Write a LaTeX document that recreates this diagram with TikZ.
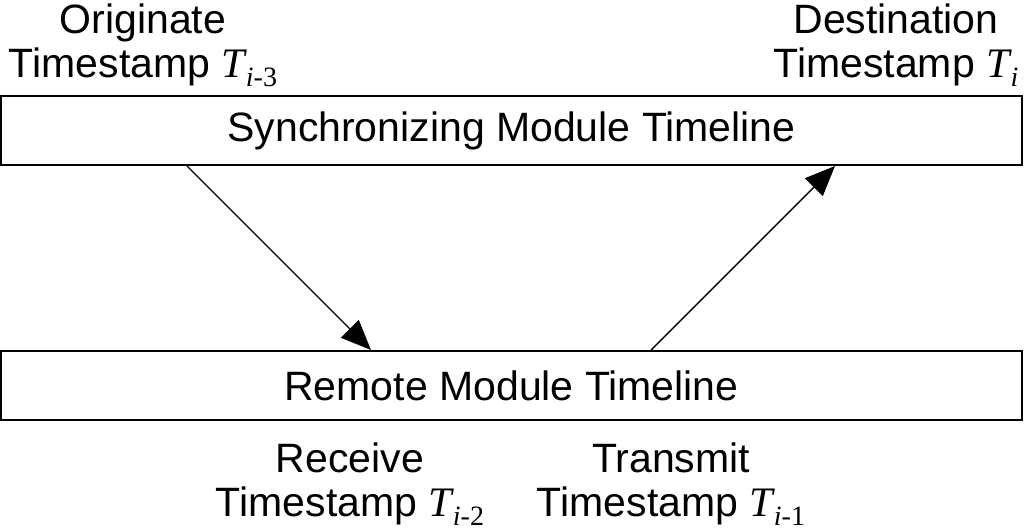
\documentclass[tikz,border=0pt]{standalone}
\usepackage{fontspec}
\setmainfont{Liberation Sans}
\newfontfamily\tnr{Liberation Serif}
\usetikzlibrary{arrows.meta,calc}
\newcommand{\Tsub}[2]{{\tnr\fontsize{42}{42}\selectfont\itshape T\kern1pt\raisebox{-9pt}{\fontsize{28}{28}\selectfont #1\upshape #2}}}
\begin{document}
\begin{tikzpicture}[x=1pt,y=-1pt,
  timeline/.style={draw, line width=2pt, minimum width=1021pt, minimum height=69pt, inner sep=0pt, font=\fontsize{41}{44}\selectfont},
  lbl/.style={align=center, inner sep=0pt, font=\fontsize{41}{44}\selectfont},
  msg/.style={line width=1.4pt, -{Triangle[length=30pt,width=25pt]}}]
\useasboundingbox (0,0) rectangle (1024,531);
\node[timeline] (sync) at (511.5,130.5) {Synchronizing Module Timeline};
\node[timeline] (remote) at (511.5,385.5) {Remote Module Timeline};
\node[lbl] (orig) at (143,45) {Originate\\Timestamp \Tsub{i}{-3}};
\node[lbl] (dest) at (896,45) {Destination\\Timestamp \Tsub{i}{}};
\node[lbl] (recv) at (350,484) {Receive\\Timestamp \Tsub{i}{-2}};
\node[lbl] (trans) at (671,484) {Transmit\\Timestamp \Tsub{i}{-1}};
\coordinate (s1) at ($(sync.south west)+(187,0)$);
\coordinate (r1) at ($(remote.north west)+(371,0)$);
\coordinate (r2) at ($(remote.north west)+(651,0)$);
\coordinate (s2) at ($(sync.south west)+(835,0)$);
\draw[msg] (s1) -- (r1);
\draw[msg] (r2) -- (s2);
\end{tikzpicture}
\end{document}
